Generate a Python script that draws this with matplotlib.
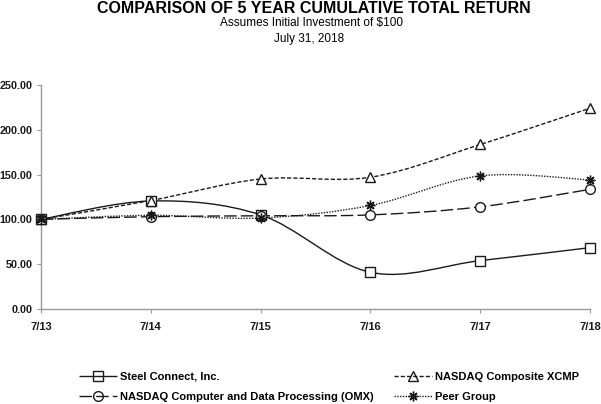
import numpy as np
import matplotlib.pyplot as plt
from matplotlib.path import Path
from matplotlib.patches import PathPatch
from matplotlib.lines import Line2D

plt.rcParams['font.family'] = ['Liberation Sans', 'DejaVu Sans']

years = ['7/13', '7/14', '7/15', '7/16', '7/17', '7/18']
steel = [100.0, 120.5, 105.0, 41.0, 54.0, 68.5]
xcmp = [100.0, 121.0, 145.0, 147.0, 183.5, 224.0]
omx = [100.0, 103.0, 104.0, 105.0, 114.0, 133.5]
peer = [100.0, 104.5, 101.5, 115.5, 148.5, 144.0]

series = [
    ('Steel Connect, Inc.', steel, 's', (0, ())),
    ('NASDAQ Computer and Data Processing (OMX)', omx, 'o', (0, (9, 3))),
    ('NASDAQ Composite XCMP', xcmp, '^', (0, (3, 1.5))),
    ('Peer Group', peer, (8, 2, 0), (0, (1, 1))),
]


def smooth_path(xs, ys, t=0.5):
    # bezier control points so the line bends like a smoothed spreadsheet line
    xs = np.asarray(xs, float)
    ys = np.asarray(ys, float)
    n = len(xs)
    verts = [(xs[0], ys[0])]
    codes = [Path.MOVETO]
    for i in range(n - 1):
        p0 = (xs[max(i - 1, 0)], ys[max(i - 1, 0)])
        p1 = (xs[i], ys[i])
        p2 = (xs[i + 1], ys[i + 1])
        p3 = (xs[min(i + 2, n - 1)], ys[min(i + 2, n - 1)])
        c1 = (p1[0] + (p2[0] - p0[0]) * t / 3, p1[1] + (p2[1] - p0[1]) * t / 3)
        c2 = (p2[0] - (p3[0] - p1[0]) * t / 3, p2[1] - (p3[1] - p1[1]) * t / 3)
        verts += [c1, c2, p2]
        codes += [Path.CURVE4] * 3
    return Path(verts, codes)


fig = plt.figure(figsize=(6.01, 4.04), dpi=100)
ax = fig.add_axes([0.068, 0.235, 0.914, 0.555])

x = np.arange(len(years))
handles = []
for label, vals, mk, ls in series:
    patch = PathPatch(smooth_path(x, vals), facecolor='none', edgecolor='#1a1a1a',
                      lw=1.0, linestyle=ls, zorder=2)
    ax.add_patch(patch)
    ax.plot(x, vals, linestyle='none', marker=mk, markersize=7,
            markerfacecolor='white', markeredgecolor='#1a1a1a',
            markeredgewidth=1.0, zorder=3, clip_on=False)
    handles.append(Line2D([], [], color='#1a1a1a', lw=1.0, linestyle=ls, marker=mk,
                          markersize=7, markerfacecolor='none',
                          markeredgecolor='#1a1a1a', label=label))

ax.set_xlim(0, 5)
ax.set_ylim(0, 250)
ax.set_xticks(x)
ax.set_xticklabels(years, fontsize=8, fontweight='bold')
ax.set_yticks(np.arange(0, 251, 50))
ax.set_yticklabels([f'{v:.2f}' for v in np.arange(0, 251, 50)], fontsize=7.8,
                   fontweight='bold')
for s in ['top', 'right']:
    ax.spines[s].set_visible(False)
for s in ['left', 'bottom']:
    ax.spines[s].set_color('#999999')
    ax.spines[s].set_linewidth(1.0)
ax.tick_params(axis='both', colors='#999999', length=3, labelcolor='#1a1a1a')
ax.tick_params(axis='x', pad=6)
ax.tick_params(axis='y', pad=3)

fig.text(0.522, 0.978, 'COMPARISON OF 5 YEAR CUMULATIVE TOTAL RETURN',
         ha='center', va='center', fontsize=11.5, fontweight='bold')
fig.text(0.518, 0.943, 'Assumes Initial Investment of $100', ha='center',
         va='center', fontsize=8.5)
fig.text(0.514, 0.903, 'July 31, 2018', ha='center', va='center', fontsize=8.5)

fig.legend(handles=handles, ncol=2, loc='upper left',
           bbox_to_anchor=(0.115, 0.105), frameon=False,
           prop={'weight': 'bold', 'size': 8}, handlelength=3.4,
           columnspacing=1.8, labelspacing=0.9, handletextpad=0.3)

fig.savefig('out.png', dpi=100)
